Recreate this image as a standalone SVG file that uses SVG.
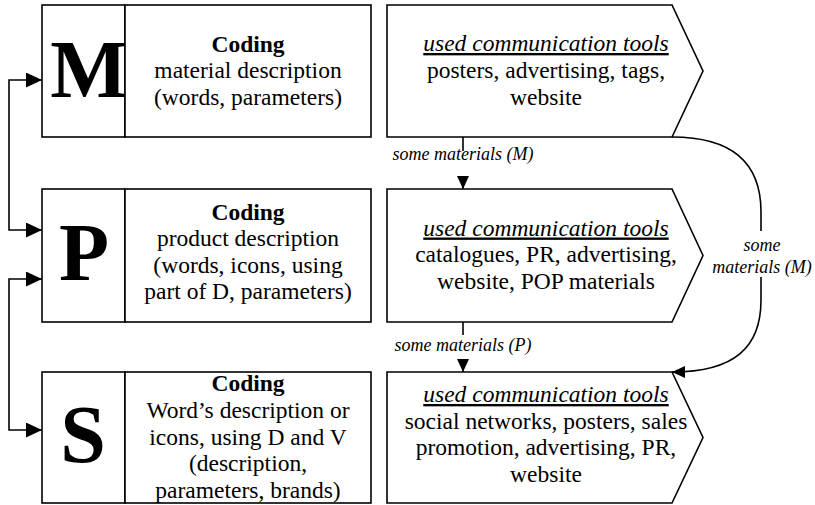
<svg xmlns="http://www.w3.org/2000/svg" width="815" height="505" viewBox="0 0 815 505">
<style>
.box{fill:#fff;stroke:#000;stroke-width:1.6}
.ln{fill:none;stroke:#000;stroke-width:1.6}
.t{font-family:"Liberation Serif","Times New Roman",serif;font-size:23.5px;fill:#000;text-anchor:middle}
.b{font-weight:bold}
.u{font-style:italic;text-decoration:underline}
.big{font-family:"Liberation Serif","Times New Roman",serif;font-size:82px;font-weight:bold;fill:#000;text-anchor:middle}
.lab{font-family:"Liberation Serif","Times New Roman",serif;font-size:18px;font-style:italic;fill:#000;text-anchor:middle}
</style>
<defs>
<marker id="ah" markerUnits="userSpaceOnUse" markerWidth="16" markerHeight="15" refX="16" refY="7.5" orient="auto-start-reverse" viewBox="0 0 16 15">
<path d="M0,0 L16,7.5 L0,15 Z" fill="#000"/>
</marker>
<marker id="as" markerUnits="userSpaceOnUse" markerWidth="13" markerHeight="12" refX="13" refY="6" orient="auto" viewBox="0 0 13 12">
<path d="M0,0 L13,6 L0,12 Z" fill="#000"/>
</marker>
</defs>

<g id="node-M">
<rect class="box" x="42" y="5" width="83" height="132"/>
<text class="big" x="89" y="97">M</text>
</g>
<g id="node-M-coding">
<rect class="box" x="125" y="5" width="246" height="132"/>
<text class="t"><tspan class="b" x="248" y="52">Coding</tspan><tspan x="248" y="78">material description</tspan><tspan x="248" y="104.5">(words, parameters)</tspan></text>
</g>
<g id="node-M-tools">
<path class="box" d="M387,5 H672 L703,71 L672,137 H387 Z"/>
<text class="t"><tspan class="u" x="546" y="51">used communication tools</tspan><tspan x="546" y="78">posters, advertising, tags,</tspan><tspan x="546" y="104.5">website</tspan></text>
</g>

<g id="node-P">
<rect class="box" x="42" y="189" width="83" height="133"/>
<text class="big" x="84" y="280">P</text>
</g>
<g id="node-P-coding">
<rect class="box" x="125" y="189" width="246" height="133"/>
<text class="t"><tspan class="b" x="248" y="219.5">Coding</tspan><tspan x="248" y="246">product description</tspan><tspan x="248" y="272.5">(words, icons, using</tspan><tspan x="248" y="299">part of D, parameters)</tspan></text>
</g>
<g id="node-P-tools">
<path class="box" d="M387,189 H672 L703,255.5 L672,322 H387 Z"/>
<text class="t"><tspan class="u" x="546" y="235.5">used communication tools</tspan><tspan x="546" y="262">catalogues, PR, advertising,</tspan><tspan x="546" y="288.5">website, POP materials</tspan></text>
</g>

<g id="node-S">
<rect class="box" x="42" y="372" width="83" height="131"/>
<text class="big" x="83" y="462">S</text>
</g>
<g id="node-S-coding">
<rect class="box" x="125" y="372" width="246" height="131"/>
<text class="t"><tspan class="b" x="248" y="391">Coding</tspan><tspan x="248" y="418">Word’s description or</tspan><tspan x="248" y="444.5">icons, using D and V</tspan><tspan x="248" y="471">(description,</tspan><tspan x="248" y="498">parameters, brands)</tspan></text>
</g>
<g id="node-S-tools">
<path class="box" d="M387,372 H672 L703,437.5 L672,503 H387 Z"/>
<text class="t"><tspan class="u" x="546" y="402">used communication tools</tspan><tspan x="546" y="428.5">social networks, posters, sales</tspan><tspan x="546" y="455">promotion, advertising, PR,</tspan><tspan x="546" y="481.5">website</tspan></text>
</g>

<g id="connectors">
<path class="ln" d="M42,80 H9 V230 H42" marker-start="url(#ah)" marker-end="url(#ah)"/>
<path class="ln" d="M42,279 H9 V430 H42" marker-start="url(#ah)" marker-end="url(#ah)"/>
<path class="ln" d="M463,137 V151"/>
<path class="ln" d="M463,176 V189" marker-end="url(#as)"/>
<text class="lab" x="463" y="160">some materials (M)</text>
<path class="ln" d="M463,322 V335"/>
<path class="ln" d="M463,359 V372" marker-end="url(#as)"/>
<text class="lab" x="463" y="351">some materials (P)</text>
<path class="ln" d="M672,137 C735,137 761,165 761,212 V231"/>
<path class="ln" d="M761,277 V300 C761,347 735,372 672,372" marker-end="url(#as)"/>
<text class="lab"><tspan x="762" y="251">some</tspan><tspan x="762" y="273">materials (M)</tspan></text>
</g>
</svg>
